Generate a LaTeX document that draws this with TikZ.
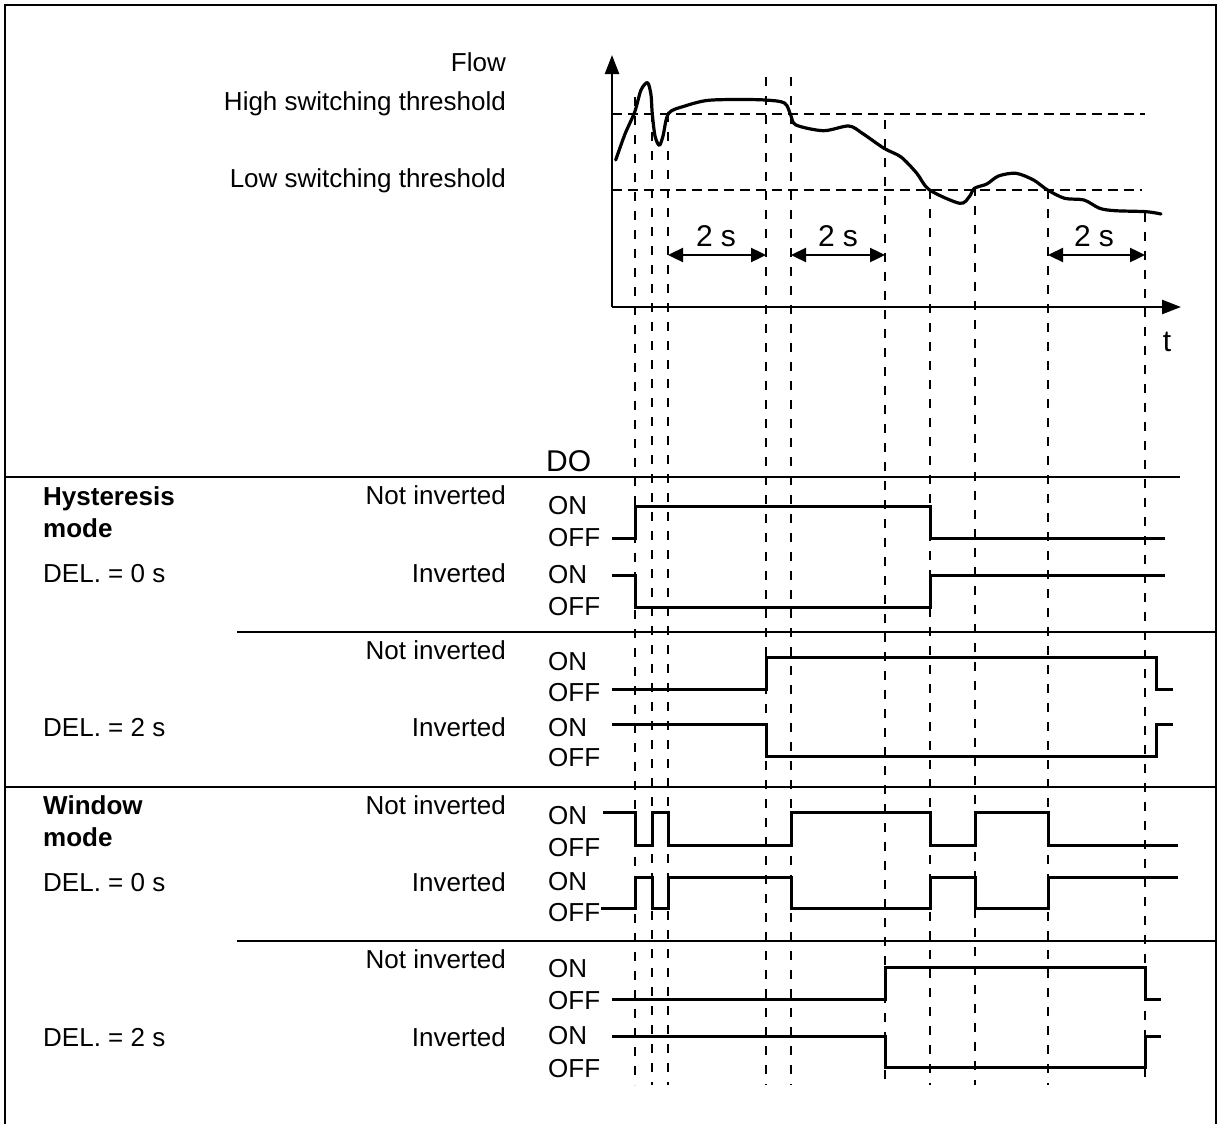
\documentclass[tikz,border=0pt]{standalone}
\usepackage{fontspec}
\setmainfont{Liberation Sans}
\usetikzlibrary{arrows.meta}
\begin{document}
\begin{tikzpicture}[x=1pt,y=-1pt,
  lbl/.style={font=\fontsize{26}{30}\selectfont, inner sep=0pt},
  blbl/.style={font=\fontsize{26}{30}\selectfont\bfseries, inner sep=0pt, anchor=base west},
  rlbl/.style={lbl, anchor=base east},
  onoff/.style={lbl, anchor=base west},
  big/.style={font=\fontsize{30}{34}\selectfont, inner sep=0pt},
  sig/.style={line width=3pt, line join=miter},
  vdash/.style={line width=2pt, dash pattern=on 9pt off 10pt},
  hdash/.style={line width=2pt, dash pattern=on 10pt off 6pt},
  sep/.style={line width=1.6pt},
  axis/.style={line width=2.4pt, -{Triangle[length=19pt,width=14pt]}},
  dur/.style={line width=2.4pt, {Triangle[length=15pt,width=14pt]}-{Triangle[length=15pt,width=14pt]}},
  curve/.style={line width=3.2pt, line cap=round, line join=round}
]
\useasboundingbox (0,0) rectangle (1222,1124);
% frame
\draw[line width=1.6pt] (5,1124) -- (5,5) -- (1216,5) -- (1216,1124);

% vertical dashed lines at the switching instants
\foreach \x/\s in {635/97,652/113,668/113,766/77,791/77,885/120,930/190,975/187,1048/190,1145/213}
  \draw[vdash] (\x,\s) -- (\x,1085);

% axes
\coordinate (origin) at (612,307);
\coordinate (ytip) at (612,55);
\coordinate (xtip) at (1181,307);
\draw[axis] (origin) -- (ytip);
\draw[axis] (origin) -- (xtip);
\node[big, anchor=base] (tlabel) at (1167,351) {t};

% thresholds
\draw[hdash] (612,113.5) -- (1145,113.5);
\draw[hdash] (612,189.5) -- (1142,189.5);

% flow curve
\draw[curve] plot[smooth, tension=0.5] coordinates {
 (615.7,160) (625,134) (634.7,112) (641,90) (647.6,82.7) (651,95) (652.2,113)
 (655,136) (659.3,145.3) (663,136) (668.6,113.3) (685,106) (706.7,100.5)
 (735,99.5) (765,100) (784.5,103) (790.7,115) (796,125) (823.4,130.7)
 (848.7,126) (862.3,133.3) (884,148.3) (901,157) (916.8,173.3) (929.2,189.7)
 (959.6,203.3) (969.3,196.7) (974.4,188.3) (986.8,184) (998.5,176) (1016,173.3)
 (1033.5,180) (1047.1,189.7) (1064.6,198.3) (1084,200) (1099.6,208.3)
 (1115.2,210.7) (1146.3,211.7) (1161,214)};

% 2 s arrows
\coordinate (a1l) at (668,255); \coordinate (a1r) at (766,255);
\coordinate (a2l) at (791,255); \coordinate (a2r) at (885,255);
\coordinate (a3l) at (1048,255); \coordinate (a3r) at (1145,255);
\draw[dur] (a1l) -- (a1r);
\draw[dur] (a2l) -- (a2r);
\draw[dur] (a3l) -- (a3r);
\node[big, anchor=base] (d1) at (716,246) {2 s};
\node[big, anchor=base] (d2) at (838,246) {2 s};
\node[big, anchor=base] (d3) at (1094,246) {2 s};

% top labels
\node[rlbl] (flow) at (506,71.5) {Flow};
\node[rlbl] (high) at (506,110.5) {High switching threshold};
\node[rlbl] (low) at (506,187.5) {Low switching threshold};

% DO
\node[big, anchor=base west] (do) at (546,471) {DO};

% separators
\draw[sep] (5,477) -- (1180,477);
\draw[sep] (237,632) -- (1216,632);
\draw[sep] (5,787) -- (1216,787);
\draw[sep] (237,941) -- (1216,941);

% left labels
\node[blbl] (hys1) at (43,505.5) {Hysteresis};
\node[blbl] (hys2) at (43,537) {mode};
\node[onoff] (del1) at (43,582.5) {DEL. = 0 s};
\node[onoff] (del2) at (43,736.5) {DEL. = 2 s};
\node[blbl] (win1) at (43,814.5) {Window};
\node[blbl] (win2) at (43,846.5) {mode};
\node[onoff] (del3) at (43,891.5) {DEL. = 0 s};
\node[onoff] (del4) at (43,1046.5) {DEL. = 2 s};

% middle labels
\node[rlbl] (ni1) at (506,504.5) {Not inverted};
\node[rlbl] (in1) at (506,582.5) {Inverted};
\node[rlbl] (ni2) at (506,659.5) {Not inverted};
\node[rlbl] (in2) at (506,736.5) {Inverted};
\node[rlbl] (ni3) at (506,814.5) {Not inverted};
\node[rlbl] (in3) at (506,891.5) {Inverted};
\node[rlbl] (ni4) at (506,968.5) {Not inverted};
\node[rlbl] (in4) at (506,1046.5) {Inverted};

% ON / OFF labels
\foreach \n/\y/\t in {a/514/ON, b/546/OFF, c/583/ON, d/615/OFF,
                      e/670/ON, f/701/OFF, g/736/ON, h/766/OFF,
                      i/824/ON, j/856/OFF, k/890/ON, l/921/OFF,
                      m/977/ON, n/1009/OFF, o/1044/ON, p/1077/OFF}
  \node[onoff] (lv\n) at (548,\y) {\t};

% signals: hysteresis, DEL = 0
\draw[sig] (612,538) -- (635,538) -- (635,506) -- (930,506) -- (930,538) -- (1165,538);
\draw[sig] (612,575) -- (635,575) -- (635,607) -- (930,607) -- (930,575) -- (1165,575);
% hysteresis, DEL = 2
\draw[sig] (612,689.5) -- (766,689.5) -- (766,657.5) -- (1156,657.5) -- (1156,689.5) -- (1173,689.5);
\draw[sig] (612,724) -- (766,724) -- (766,756.5) -- (1156,756.5) -- (1156,724) -- (1173,724);
% window, DEL = 0
\draw[sig] (603,812) -- (635,812) -- (635,845) -- (652,845) -- (652,812) -- (668,812) -- (668,845)
  -- (791,845) -- (791,812) -- (930,812) -- (930,845) -- (975,845) -- (975,812) -- (1048,812)
  -- (1048,845) -- (1178,845);
\draw[sig] (601,908.5) -- (635,908.5) -- (635,877.5) -- (652,877.5) -- (652,908.5) -- (668,908.5) -- (668,877.5)
  -- (791,877.5) -- (791,908.5) -- (930,908.5) -- (930,877.5) -- (975,877.5) -- (975,908.5) -- (1048,908.5)
  -- (1048,877.5) -- (1178,877.5);
% window, DEL = 2
\draw[sig] (612,999) -- (885,999) -- (885,967) -- (1145,967) -- (1145,999) -- (1161,999);
\draw[sig] (612,1036) -- (885,1036) -- (885,1067.5) -- (1145,1067.5) -- (1145,1036) -- (1161,1036);
\end{tikzpicture}
\end{document}
